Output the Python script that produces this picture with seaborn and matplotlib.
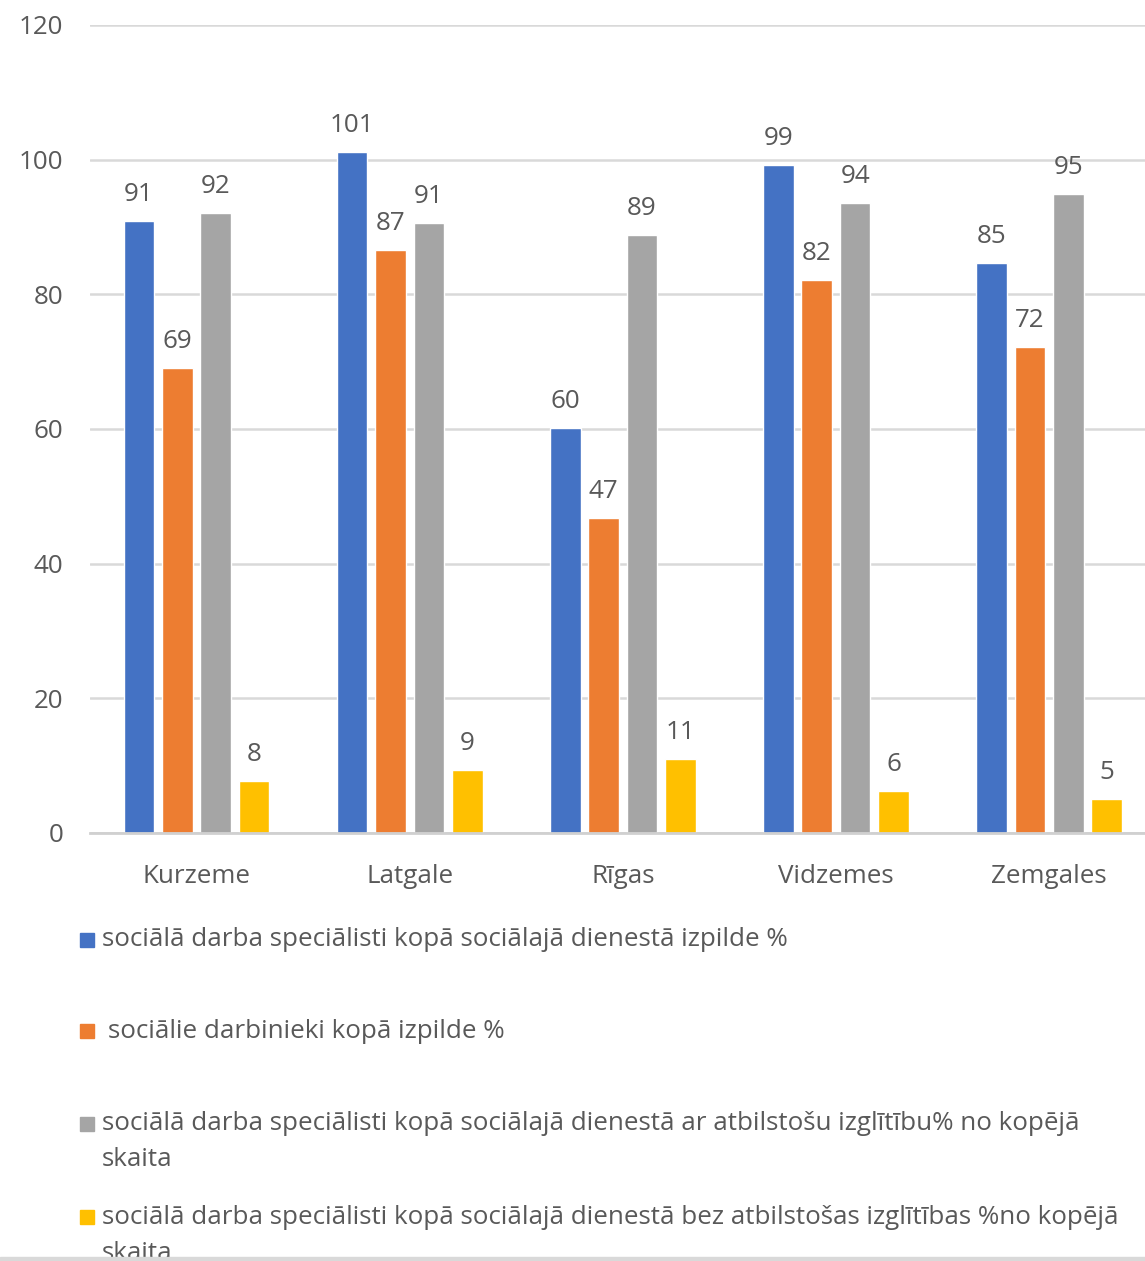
import pandas as pd
import seaborn as sns
import matplotlib.pyplot as plt
from matplotlib.patches import Rectangle

regioni = ["Kurzeme", "Latgale", "Rīgas", "Vidzemes", "Zemgales"]
serijas = [
    "sociālā darba speciālisti kopā sociālajā dienestā izpilde %",
    "sociālie darbinieki kopā izpilde %",
    "sociālā darba speciālisti kopā sociālajā dienestā ar atbilstošu izglītību% no kopējā skaita",
    "sociālā darba speciālisti kopā sociālajā dienestā bez atbilstošas izglītības %no kopējā skaita",
]
specialisti_izpilde = [90.9, 101.1, 60.1, 99.2, 84.6]
darbinieki_izpilde = [69.1, 86.6, 46.8, 82.1, 72.2]
ar_izglitibu = [92.1, 90.6, 88.8, 93.6, 94.9]
bez_izglitibas = [7.7, 9.4, 11.0, 6.2, 5.1]
krasas = ["#4472C4", "#ED7D31", "#A5A5A5", "#FFC000"]

df = pd.DataFrame({
    "regions": regioni * 4,
    "serija": [s for s in serijas for _ in regioni],
    "vertiba": specialisti_izpilde + darbinieki_izpilde + ar_izglitibu + bez_izglitibas,
})

sns.set_style("white")
plt.rcParams["font.family"] = ["Open Sans", "DejaVu Sans"]
teksts = "#595959"
fs = 18.7

fig = plt.figure(figsize=(11.45, 12.61), dpi=100)
ax = fig.add_axes([90 / 1145, 1 - 833 / 1261, 1055 / 1145, 808 / 1261])

sns.barplot(data=df, x="regions", y="vertiba", hue="serija", order=regioni,
            hue_order=serijas, palette=krasas, width=0.72, gap=0.2,
            saturation=1, legend=False, ax=ax)

for c in ax.containers:
    ax.bar_label(c, fmt="%.0f", padding=10, fontsize=fs, color=teksts)

ax.set_ylim(0, 120)
ax.set_yticks(range(0, 121, 20))
ax.set_xlim(-0.5, 4.45)
ax.set_xlabel("")
ax.set_ylabel("")
ax.yaxis.grid(True, color="#d9d9d9", lw=1.8)
ax.set_axisbelow(True)
for s in ["top", "right", "left"]:
    ax.spines[s].set_visible(False)
ax.spines["bottom"].set_color("#d0d0d0")
ax.spines["bottom"].set_linewidth(2)
ax.tick_params(axis="y", length=0, pad=19, labelsize=fs, labelcolor=teksts)
ax.tick_params(axis="x", length=0, pad=22, labelsize=fs, labelcolor=teksts)

# legenda zem grafika
rindas = [
    [serijas[0]],
    [serijas[1]],
    ["sociālā darba speciālisti kopā sociālajā dienestā ar atbilstošu izglītību% no kopējā", "skaita"],
    ["sociālā darba speciālisti kopā sociālajā dienestā bez atbilstošas izglītības %no kopējā", "skaita"],
]
y_poz = [940, 1031, 1124, 1217]
for i, (r, y) in enumerate(zip(rindas, y_poz)):
    fig.add_artist(Rectangle((80 / 1145, 1 - (y + 7) / 1261), 14 / 1145, 14 / 1261,
                             transform=fig.transFigure, color=krasas[i]))
    for j, t in enumerate(r):
        x0 = 108 if i == 1 else 102
        fig.text(x0 / 1145, 1 - (y + j * 36) / 1261, t, fontsize=fs, color=teksts,
                 va="center", ha="left")

fig.add_artist(Rectangle((0, 0), 1, 4 / 1261, transform=fig.transFigure,
                         color="#d9d9d9", zorder=10))

plt.savefig("out.png", dpi=100)
